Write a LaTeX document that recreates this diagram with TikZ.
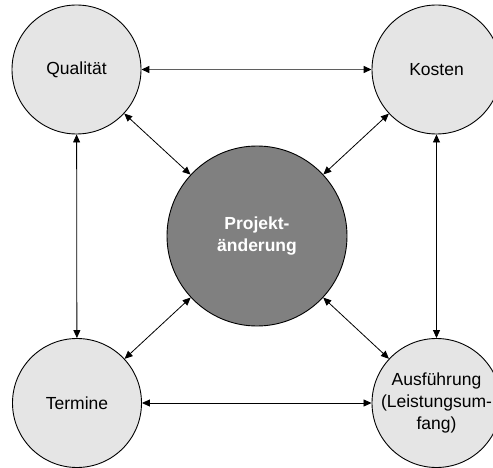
\documentclass[tikz,border=0pt]{standalone}
\usepackage{fontspec}
\setmainfont{Liberation Sans}
\usetikzlibrary{arrows.meta}
\definecolor{lightgr}{RGB}{229,229,229}
\definecolor{midgr}{RGB}{128,128,128}
\definecolor{topline}{RGB}{95,95,95}
\begin{document}
\begin{tikzpicture}[x=1pt,y=-1pt,
  outer/.style={circle,draw=black,line width=0.9pt,fill=lightgr,minimum size=129pt,inner sep=0pt},
  hub/.style={circle,draw=black,line width=0.9pt,fill=midgr,minimum size=180pt,inner sep=0pt},
  lbl/.style={align=center,inner sep=0pt,font=\fontsize{17.5}{21.7}\selectfont},
  hublbl/.style={lbl,text=white,font=\fontsize{17.5}{21.7}\selectfont\bfseries},
  link/.style={{Triangle[length=8pt,width=7pt]}-{Triangle[length=8pt,width=7pt]},line width=0.8pt,draw=black},
  toplink/.style={{Triangle[length=8pt,width=7pt,color=black]}-{Triangle[length=8pt,width=7pt,color=black]},draw=topline,line width=1.4pt}
]
\useasboundingbox (0,0) rectangle (493,468);
\node[outer] (q) at (76.5,69.5) {};
\node[outer] (k) at (436.5,69.5) {};
\node[outer] (t) at (77,403) {};
\node[outer] (a) at (436.5,403) {};
\node[hub] (p) at (257,236) {};
\node[lbl] (qt) at (q.center) {Qualität};
\node[lbl] (kt) at (k.center) {Kosten};
\node[lbl] (tt) at (t.center) {Termine};
\node[lbl] (at) at (a.center) {Ausführung\\(Leistungsum-\\fang)};
\node[hublbl] (pt) at (p.center) {Projekt-\\änderung};
\draw[toplink] (q) -- (k);
\draw[link] (t) -- (a);
\draw[link] (q) -- (t);
\draw[link] (k) -- (a);
\draw[link] (q) -- (p);
\draw[link] (k) -- (p);
\draw[link] (t) -- (p);
\draw[link] (a) -- (p);
\end{tikzpicture}
\end{document}
